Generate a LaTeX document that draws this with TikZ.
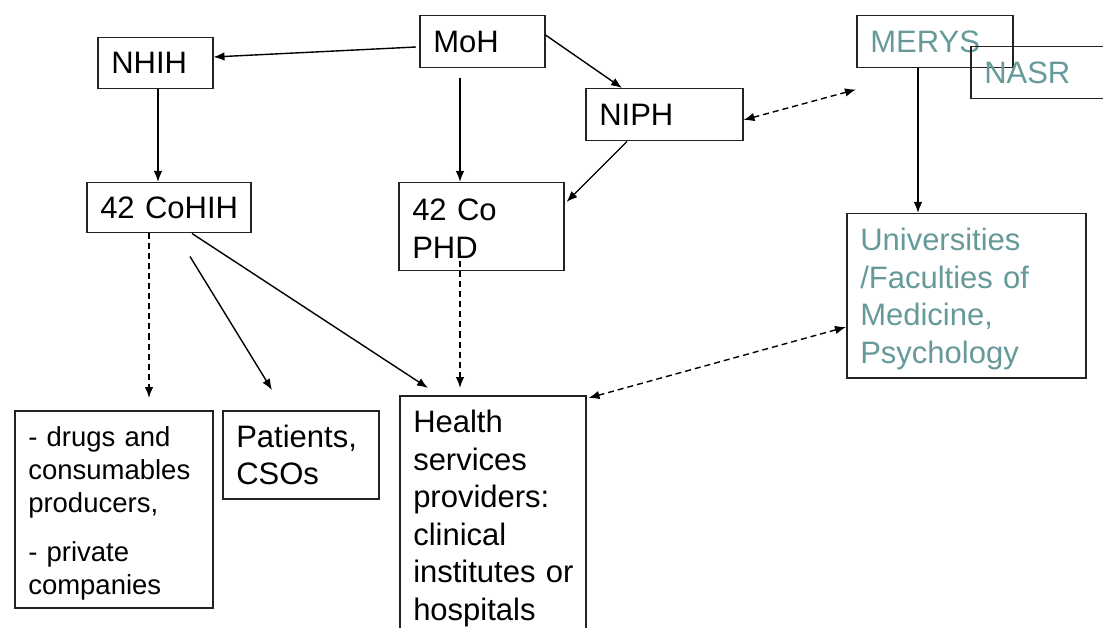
\documentclass[tikz,border=0pt]{standalone}
\usepackage{fontspec}
\setmainfont{Liberation Sans}
\usetikzlibrary{arrows.meta,calc}
\definecolor{tealtext}{HTML}{669999}
\definecolor{boxline}{HTML}{222222}
\newcommand\myfirststrut[1]{\rule{0pt}{#1}}
\begin{document}
\begin{tikzpicture}[x=1pt,y=-1pt,
  box/.style={draw=boxline,line width=1.5pt,rectangle,anchor=north west,
    inner xsep=13.5pt,inner ysep=0pt,align=left,
    font=\fontsize{31}{37.5}\selectfont},
  smallbox/.style={box,font=\fontsize{27.5}{33}\selectfont},
  tealbox/.style={box,text=tealtext},
  arr/.style={line width=1.4pt,-{Latex[length=11pt,width=8.5pt]}},
  darr/.style={arr,dash pattern=on 6pt off 4pt},
  ddarr/.style={darr,{Latex[length=11pt,width=8.5pt]}-{Latex[length=11pt,width=8.5pt]}}]
\useasboundingbox (0,0) rectangle (1103,628);

\node[box,text width=98pt,minimum width=125pt,minimum height=52pt] (MoH) at (419,15) {MoH};
\node[box,text width=88pt,minimum width=115pt,minimum height=51pt] (NHIH) at (97,37) {NHIH};
\node[box,text width=130pt,minimum width=157pt,minimum height=52pt] (NIPH) at (585,88) {NIPH};
\node[tealbox,text width=129pt,minimum width=156pt,minimum height=52pt] (MERYS) at (856,15) {MERYS};
\node[tealbox,text width=118pt,minimum width=145pt,minimum height=52pt] (NASR) at (970,46) {NASR};
\node[box,text width=137pt,minimum width=164pt,minimum height=50pt] (CoHIH) at (86,182) {\mbox{42~CoHIH}};
\node[box,text width=138pt,minimum width=165pt,minimum height=88pt] (CoPHD) at (398,182) {\myfirststrut{26pt}42 Co\\PHD};
\node[tealbox,text width=212pt,minimum width=239pt,minimum height=164pt] (Univ) at (846,213)
  {\myfirststrut{29pt}Universities\\/Faculties~of\\Medicine,\\Psychology};
\node[smallbox,text width=171pt,minimum width=198pt,minimum height=197pt] (Drugs) at (14,410)
  {\myfirststrut{28pt}-~drugs~and\\consumables\\producers,\\[16pt]-~private\\companies};
\node[box,text width=129pt,minimum width=156pt,minimum height=88pt] (Patients) at (222,410)
  {Patients,\\CSOs};
\node[box,text width=159pt,minimum width=186pt,minimum height=242pt] (Health) at (399,395)
  {\myfirststrut{26pt}Health\\services\\providers:\\clinical\\institutes~or\\hospitals};

\draw[arr] ($(MoH.north west)+(-3,32)$) -- ($(NHIH.north east)+(0,20)$);
\draw[arr] ($(MoH.north east)+(0,20)$) -- ($(NIPH.north west)+(37,0)$);
\draw[arr] ($(MoH.south west)+(41,10)$) -- ($(CoPHD.north west)+(62,0)$);
\draw[arr] ($(NHIH.south west)+(61,0)$) -- ($(CoHIH.north west)+(72,0)$);
\draw[arr] ($(NIPH.south west)+(42,0)$) -- ($(CoPHD.north east)+(2,20)$);
\draw[ddarr] ($(NIPH.north east)+(0,32)$) -- ($(MERYS.south west)+(0,21)$);
\draw[arr] ($(MERYS.south west)+(62,0)$) -- ($(Univ.north west)+(72,0)$);
\draw[darr] ($(CoHIH.south west)+(63,0)$) -- ($(Drugs.north west)+(135,-12)$);
\draw[arr] ($(CoHIH.south west)+(104,23)$) -- ($(Patients.north west)+(50,-20)$);
\draw[arr] ($(CoHIH.south west)+(106,0)$) -- ($(Health.north west)+(29,-7)$);
\draw[darr] ($(CoPHD.south west)+(62,-20)$) -- ($(Health.north west)+(61,-7)$);
\draw[ddarr] ($(Health.north east)+(2,3)$) -- ($(Univ.north west)+(0,114)$);
\end{tikzpicture}
\end{document}
